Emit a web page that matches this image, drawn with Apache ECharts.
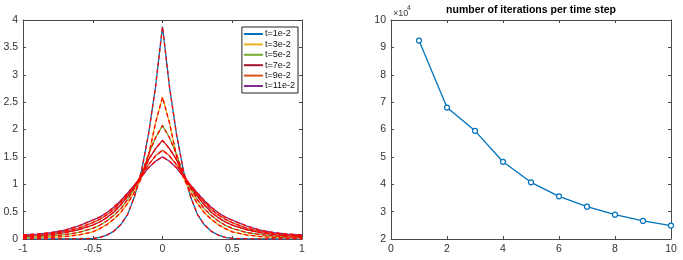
<!DOCTYPE html>
<html>
<head>
<meta charset="utf-8">
<script src="https://cdn.jsdelivr.net/npm/echarts@6/dist/echarts.min.js"></script>
<style>
  html, body { margin: 0; padding: 0; background: #fff; }
  #chart-container { width: 683px; height: 260px; }
</style>
</head>
<body>
<div id="chart-container"></div>
<script>
// left panel: profiles u(x) at several times
const xs = [-1, -0.9, -0.8, -0.7, -0.6, -0.5, -0.45, -0.4, -0.35, -0.3, -0.25, -0.2, -0.15, -0.1, -0.05, 0,
  0.05, 0.1, 0.15, 0.2, 0.25, 0.3, 0.35, 0.4, 0.45, 0.5, 0.6, 0.7, 0.8, 0.9, 1];

const u1 = [0, 0, 0, 0.001, 0.003, 0.012, 0.03, 0.07, 0.14, 0.26, 0.45, 0.78, 1.25, 1.92, 2.78, 3.88,
  2.78, 1.92, 1.25, 0.78, 0.45, 0.26, 0.14, 0.07, 0.03, 0.012, 0.003, 0.001, 0, 0, 0];
const u3 = [0.015, 0.02, 0.03, 0.045, 0.075, 0.13, 0.19, 0.26, 0.36, 0.48, 0.65, 0.86, 1.12, 1.52, 2.12, 2.59,
  2.12, 1.52, 1.12, 0.86, 0.65, 0.48, 0.36, 0.26, 0.19, 0.13, 0.075, 0.045, 0.03, 0.02, 0.015];
const u5 = [0.03, 0.04, 0.055, 0.08, 0.12, 0.195, 0.25, 0.33, 0.43, 0.55, 0.72, 0.93, 1.18, 1.55, 1.85, 2.07,
  1.85, 1.55, 1.18, 0.93, 0.72, 0.55, 0.43, 0.33, 0.25, 0.195, 0.12, 0.08, 0.055, 0.04, 0.03];
const u7 = [0.045, 0.06, 0.08, 0.115, 0.17, 0.255, 0.31, 0.39, 0.49, 0.62, 0.78, 0.96, 1.17, 1.45, 1.65, 1.80,
  1.65, 1.45, 1.17, 0.96, 0.78, 0.62, 0.49, 0.39, 0.31, 0.255, 0.17, 0.115, 0.08, 0.06, 0.045];
const u9 = [0.06, 0.075, 0.10, 0.14, 0.20, 0.30, 0.36, 0.44, 0.54, 0.67, 0.81, 0.98, 1.16, 1.36, 1.52, 1.62,
  1.52, 1.36, 1.16, 0.98, 0.81, 0.67, 0.54, 0.44, 0.36, 0.30, 0.20, 0.14, 0.10, 0.075, 0.06];
const u11 = [0.075, 0.09, 0.115, 0.16, 0.24, 0.345, 0.40, 0.48, 0.58, 0.70, 0.84, 0.99, 1.14, 1.30, 1.42, 1.50,
  1.42, 1.30, 1.14, 0.99, 0.84, 0.70, 0.58, 0.48, 0.40, 0.345, 0.24, 0.16, 0.115, 0.09, 0.075];

const profileNames = ["t=1e-2", "t=3e-2", "t=5e-2", "t=7e-2", "t=9e-2", "t=11e-2"];
const profiles = [u1, u3, u5, u7, u9, u11];
const colors = ["#0072BD", "#EDB120", "#77AC30", "#A2142F", "#D95319", "#7E2F8E"];

// right panel: iterations per time step
const steps = [1, 2, 3, 4, 5, 6, 7, 8, 9, 10];
const iterations = [92500, 68000, 59500, 48200, 40700, 35600, 31800, 28900, 26600, 24900];

var dom = document.getElementById("chart-container");
var myChart = echarts.init(dom, null, { renderer: "canvas" });

const FONT = "Liberation Sans";
const axisColor = "#4a4a4a";

function makeAxis(gridIndex, pos, min, max, interval, showLabel, fmt) {
  return {
    type: "value",
    gridIndex: gridIndex,
    position: pos,
    min: min,
    max: max,
    interval: interval,
    axisLine: { show: true, onZero: false, lineStyle: { color: axisColor, width: 1 } },
    axisTick: { show: true, inside: true, length: 3, lineStyle: { color: axisColor } },
    axisLabel: {
      show: showLabel,
      color: "#333",
      fontSize: 10.5,
      fontFamily: FONT,
      margin: 5,
      formatter: fmt,
    },
    splitLine: { show: false },
  };
}

const pairs = (xArr, yArr) => xArr.map((x, i) => [x, yArr[i]]);

const series = [];
profiles.forEach(function (p, i) {
  series.push({
    name: profileNames[i],
    type: "line",
    xAxisIndex: 0,
    yAxisIndex: 0,
    data: pairs(xs, p),
    symbol: "none",
    color: colors[i],
    lineStyle: { width: 1.3, color: colors[i] },
    animation: false,
    z: 2,
  });
});
// red dashed overlay on every profile
profiles.forEach(function (p, i) {
  series.push({
    name: "ref" + i,
    type: "line",
    xAxisIndex: 0,
    yAxisIndex: 0,
    data: pairs(xs, p),
    symbol: "none",
    lineStyle: { width: 1.3, color: "#FF0000", type: [4, 3] },
    animation: false,
    z: 3,
  });
});
series.push({
  name: "iterations",
  type: "line",
  xAxisIndex: 2,
  yAxisIndex: 2,
  data: pairs(steps, iterations),
  symbol: "circle",
  symbolSize: 5,
  showSymbol: true,
  itemStyle: { color: "#fff", borderColor: "#0072BD", borderWidth: 1.2 },
  lineStyle: { width: 1.3, color: "#0072BD" },
  animation: false,
});

var option = {
  backgroundColor: "#fff",
  grid: [
    { left: 23, right: 381, top: 20, bottom: 21 },
    { left: 391, right: 12, top: 20, bottom: 21 },
  ],
  xAxis: [
    makeAxis(0, "bottom", -1, 1, 0.5, true),
    makeAxis(0, "top", -1, 1, 0.5, false),
    makeAxis(1, "bottom", 0, 10, 2, true),
    makeAxis(1, "top", 0, 10, 2, false),
  ],
  yAxis: [
    makeAxis(0, "left", 0, 4, 0.5, true),
    makeAxis(0, "right", 0, 4, 0.5, false),
    makeAxis(1, "left", 20000, 100000, 10000, true, function (v) {
      return String(v / 10000);
    }),
    makeAxis(1, "right", 20000, 100000, 10000, false),
  ],
  legend: {
    data: profileNames,
    orient: "vertical",
    right: 385,
    top: 27,
    align: "left",
    icon: "rect",
    itemWidth: 19,
    itemHeight: 2,
    itemGap: 0.4,
    padding: [2, 3, 2, 2],
    borderColor: "#222",
    borderWidth: 1,
    backgroundColor: "#fff",
    textStyle: { fontSize: 9, lineHeight: 10, fontFamily: FONT, color: "#111", padding: [0, 0, 0, -3] },
  },
  graphic: [
    {
      type: "text",
      x: 531,
      y: 5,
      style: {
        text: "number of iterations per time step",
        textAlign: "center",
        font: "bold 10.5px 'Liberation Sans'",
        fill: "#000",
      },
    },
    {
      type: "text",
      x: 393,
      y: 9,
      style: { text: "\u00d710", font: "9px 'Liberation Sans'", fill: "#3a3a3a" },
    },
    {
      type: "text",
      x: 407,
      y: 5,
      style: { text: "4", font: "7px 'Liberation Sans'", fill: "#3a3a3a" },
    },
  ],
  series: series,
};

if (option && typeof option === "object") {
  myChart.setOption(option);
}

window.addEventListener("resize", myChart.resize);
</script>
</body>
</html>
